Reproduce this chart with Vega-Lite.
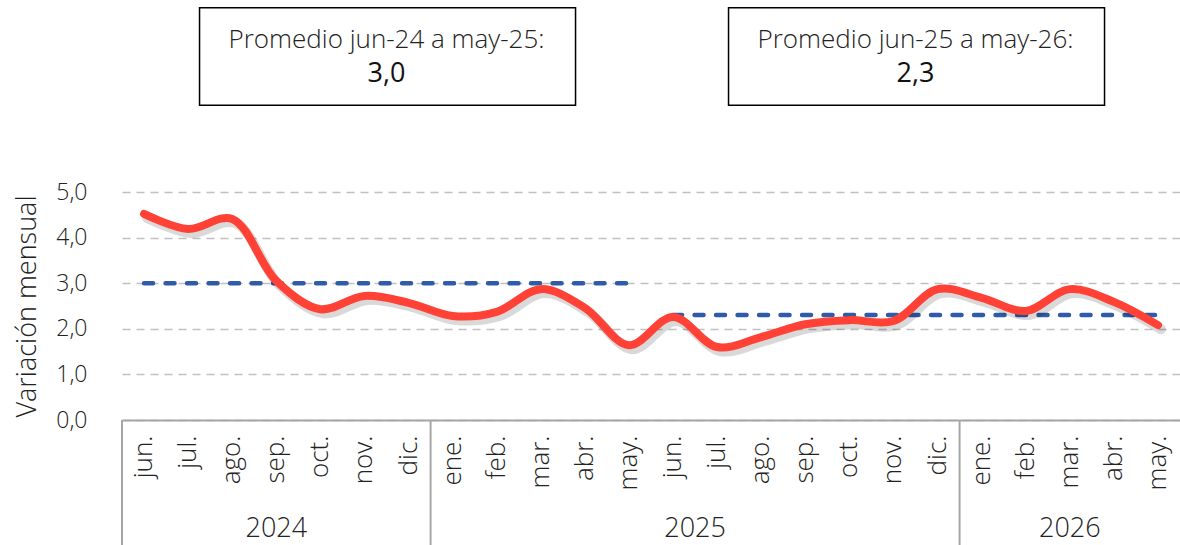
{
  "$schema": "https://vega.github.io/schema/vega-lite/v6.json",
  "width": 1058,
  "height": 228,
  "autosize": {"type": "none"},
  "padding": {"left": 122, "top": 192, "right": 0, "bottom": 125},
  "background": "white",
  "config": {
    "view": {"stroke": null},
    "font": "Open Sans",
    "text": {"font": "Open Sans"}
  },
  "datasets": {
    "serie": [
      {"mes": "2024-06", "valor": 4.52},
      {"mes": "2024-07", "valor": 4.19},
      {"mes": "2024-08", "valor": 4.41},
      {"mes": "2024-09", "valor": 3.05},
      {"mes": "2024-10", "valor": 2.43},
      {"mes": "2024-11", "valor": 2.72},
      {"mes": "2024-12", "valor": 2.57},
      {"mes": "2025-01", "valor": 2.28},
      {"mes": "2025-02", "valor": 2.37},
      {"mes": "2025-03", "valor": 2.87},
      {"mes": "2025-04", "valor": 2.46},
      {"mes": "2025-05", "valor": 1.64},
      {"mes": "2025-06", "valor": 2.26},
      {"mes": "2025-07", "valor": 1.6},
      {"mes": "2025-08", "valor": 1.82},
      {"mes": "2025-09", "valor": 2.1},
      {"mes": "2025-10", "valor": 2.19},
      {"mes": "2025-11", "valor": 2.17},
      {"mes": "2025-12", "valor": 2.87},
      {"mes": "2026-01", "valor": 2.68},
      {"mes": "2026-02", "valor": 2.39},
      {"mes": "2026-03", "valor": 2.87},
      {"mes": "2026-04", "valor": 2.59},
      {"mes": "2026-05", "valor": 2.08}
    ],
    "promedios": [
      {"mes": "2024-06", "promedio": 3.0, "periodo": "jun-24 a may-25"},
      {"mes": "2025-05", "promedio": 3.0, "periodo": "jun-24 a may-25"},
      {"mes": "2025-06", "promedio": 2.3, "periodo": "jun-25 a may-26"},
      {"mes": "2026-05", "promedio": 2.3, "periodo": "jun-25 a may-26"}
    ],
    "anios": [
      {"anio": "2024", "inicio": "2024-06", "centro": "2024-09", "corte": false},
      {"anio": "2025", "inicio": "2025-01", "centro": "2025-07", "corte": true},
      {"anio": "2026", "inicio": "2026-01", "centro": "2026-03", "corte": false}
    ],
    "cajas": [
      {"mes": "2024-12", "titulo": "Promedio jun-24 a may-25:", "valor": "3,0"},
      {"mes": "2025-12", "titulo": "Promedio jun-25 a may-26:", "valor": "2,3"}
    ]
  },
  "encoding": {
    "x": {
      "field": "mes",
      "type": "ordinal",
      "scale": {
        "domain": ["2024-06","2024-07","2024-08","2024-09","2024-10","2024-11","2024-12","2025-01","2025-02","2025-03","2025-04","2025-05","2025-06","2025-07","2025-08","2025-09","2025-10","2025-11","2025-12","2026-01","2026-02","2026-03","2026-04","2026-05"],
        "paddingInner": 0,
        "paddingOuter": 0
      },
      "axis": {
        "title": null,
        "labelAngle": -90,
        "labelFontSize": 26,
        "labelFont": "Open Sans",
        "labelFontWeight": 300,
        "labelColor": "#222222",
        "labelPadding": 15,
        "ticks": false,
        "domainColor": "#a6a6a6",
        "domainWidth": 2,
        "labelExpr": "['ene.','feb.','mar.','abr.','may.','jun.','jul.','ago.','sep.','oct.','nov.','dic.'][toNumber(slice(datum.value,5))-1]"
      }
    }
  },
  "layer": [
    {
      "data": {"name": "serie"},
      "mark": {"type": "line", "opacity": 0},
      "encoding": {
        "y": {
          "field": "valor",
          "type": "quantitative",
          "scale": {"domain": [0, 5], "nice": false, "zero": true},
          "axis": {
            "title": "Variación mensual",
            "titleFontSize": 27,
            "titleFont": "Open Sans",
            "titleFontWeight": 300,
            "titleColor": "#222222",
            "titlePadding": 14,
            "values": [0, 1, 2, 3, 4, 5],
            "labelExpr": "replace(format(datum.value, '.1f'), '.', ',')",
            "labelFontSize": 23,
            "labelFont": "Open Sans",
            "labelFontWeight": 300,
            "labelColor": "#222222",
            "labelPadding": 35,
            "ticks": false,
            "domain": false,
            "grid": true,
            "gridColor": "#c0c0c0",
            "gridWidth": 1.5,
            "gridDash": [8, 6]
          }
        }
      }
    },
    {
      "data": {"name": "anios"},
      "mark": {"type": "rule", "color": "#a6a6a6", "strokeWidth": 2, "clip": false},
      "encoding": {
        "x": {"field": "inicio", "type": "ordinal", "bandPosition": 0},
        "y": {"datum": 0, "type": "quantitative"},
        "y2": {"datum": -2.8}
      }
    },
    {
      "data": {"name": "anios"},
      "transform": [{"filter": "!datum.corte"}],
      "mark": {"type": "text", "fontSize": 27, "fontWeight": 300, "color": "#222222", "baseline": "middle", "clip": false},
      "encoding": {
        "x": {"field": "centro", "type": "ordinal", "bandPosition": 0.5},
        "y": {"datum": -2.4, "type": "quantitative"},
        "text": {"field": "anio"}
      }
    },
    {
      "data": {"name": "anios"},
      "transform": [{"filter": "datum.corte"}],
      "mark": {"type": "text", "fontSize": 27, "fontWeight": 300, "color": "#222222", "baseline": "middle", "clip": false},
      "encoding": {
        "x": {"field": "centro", "type": "ordinal", "bandPosition": 0},
        "y": {"datum": -2.4, "type": "quantitative"},
        "text": {"field": "anio"}
      }
    },
    {
      "data": {"name": "promedios"},
      "mark": {"type": "line", "color": "#2F5BA8", "strokeWidth": 4.5, "strokeDash": [9, 12.5], "strokeCap": "round"},
      "encoding": {
        "y": {"field": "promedio", "type": "quantitative"},
        "detail": {"field": "periodo"}
      }
    },
    {
      "data": {"name": "serie"},
      "mark": {"type": "line", "color": "#000000", "opacity": 0.15, "strokeWidth": 10, "strokeCap": "round", "interpolate": "catmull-rom", "xOffset": 3, "yOffset": 4},
      "encoding": {
        "y": {"field": "valor", "type": "quantitative"}
      }
    },
    {
      "data": {"name": "serie"},
      "mark": {"type": "line", "color": "#FF4136", "strokeWidth": 8, "strokeCap": "round", "strokeJoin": "round", "interpolate": "catmull-rom"},
      "encoding": {
        "y": {"field": "valor", "type": "quantitative"}
      }
    },
    {
      "data": {"name": "cajas"},
      "mark": {"type": "rect", "fill": "white", "stroke": "#000000", "strokeWidth": 1.5, "width": 376, "xOffset": -21, "clip": false},
      "encoding": {
        "x": {"field": "mes", "type": "ordinal", "bandPosition": 0},
        "y": {"datum": 9.04, "type": "quantitative"},
        "y2": {"datum": 6.9}
      }
    },
    {
      "data": {"name": "cajas"},
      "mark": {"type": "text", "fontSize": 26, "fontWeight": 300, "color": "#222222", "baseline": "middle", "clip": false},
      "encoding": {
        "x": {"field": "mes", "type": "ordinal", "bandPosition": 0},
        "y": {"datum": 8.33, "type": "quantitative"},
        "text": {"field": "titulo"}
      }
    },
    {
      "data": {"name": "cajas"},
      "mark": {"type": "text", "fontSize": 27, "fontWeight": 400, "color": "#111111", "baseline": "middle", "clip": false},
      "encoding": {
        "x": {"field": "mes", "type": "ordinal", "bandPosition": 0},
        "y": {"datum": 7.59, "type": "quantitative"},
        "text": {"field": "valor"}
      }
    }
  ]
}
